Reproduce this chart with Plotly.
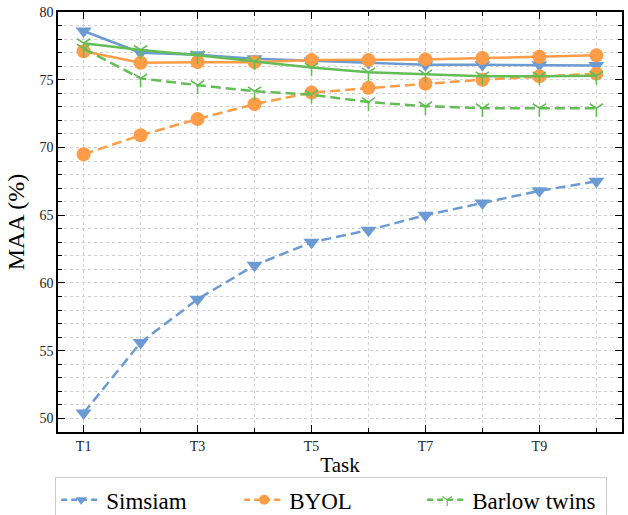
import plotly.graph_objects as go

tasks = [1, 2, 3, 4, 5, 6, 7, 8, 9, 10]
tick_vals = [1, 3, 5, 7, 9]
tick_text = ["T1", "T3", "T5", "T7", "T9"]

simsiam_dash = [50.4, 55.6, 58.8, 61.3, 63.0, 63.9, 65.0, 65.9, 66.8, 67.5]
simsiam_solid = [78.6, 77.0, 76.85, 76.55, 76.4, 76.25, 76.1, 76.1, 76.1, 76.05]
byol_dash = [69.5, 70.9, 72.1, 73.2, 74.05, 74.4, 74.7, 75.0, 75.25, 75.45]
byol_solid = [77.1, 76.25, 76.3, 76.3, 76.45, 76.45, 76.5, 76.6, 76.7, 76.8]
barlow_dash = [77.3, 75.1, 74.6, 74.15, 73.9, 73.35, 73.05, 72.9, 72.9, 72.9]
barlow_solid = [77.7, 77.2, 76.8, 76.35, 75.9, 75.55, 75.4, 75.25, 75.25, 75.3]

names = ["Simsiam", "BYOL", "Barlow twins"]
blue = "#6b9bd2"
orange = "#ff9c48"
green = "#63bd55"
colors = [blue, orange, green]
symbols = ["triangle-down", "circle", "y-down-open"]

SERIF = "Liberation Serif, Times New Roman, serif"

fig = go.Figure()

series = [
    (simsiam_dash, simsiam_solid),
    (byol_dash, byol_solid),
    (barlow_dash, barlow_solid),
]

dash_style = "10px,5px"
for i, (dvals, svals) in enumerate(series):
    c = colors[i]
    sym = symbols[i]
    is_open = sym.endswith("open")
    msize = 11 if is_open else 14
    mline = dict(color=c, width=1.6) if is_open else dict(width=0)
    fig.add_trace(go.Scatter(
        x=tasks, y=svals, mode="lines+markers", showlegend=False,
        line=dict(color=c, width=2.5),
        marker=dict(symbol=sym, size=msize, color=c, line=mline),
    ))
    fig.add_trace(go.Scatter(
        x=tasks, y=dvals, mode="lines+markers", showlegend=False,
        line=dict(color=c, width=2.5, dash=dash_style),
        marker=dict(symbol=sym, size=msize, color=c, line=mline),
    ))

# legend-only entries with small markers
for i, n in enumerate(names):
    c = colors[i]
    sym = symbols[i]
    is_open = sym.endswith("open")
    fig.add_trace(go.Scatter(
        x=[None], y=[None], mode="lines+markers", name=n,
        line=dict(color=c, width=2.5, dash="6px,4px"),
        marker=dict(symbol=sym, size=8 if is_open else 10, color=c,
                    line=dict(color=c, width=1.2) if is_open else dict(width=0)),
    ))

axis_common = dict(
    showline=True, linecolor="black", linewidth=1.5, mirror="ticks",
    ticks="inside", ticklen=7, tickwidth=1.2, tickcolor="black",
    showgrid=True, gridcolor="#d0d0d0", griddash="dot", gridwidth=1,
    zeroline=False, automargin=False,
    tickfont=dict(family=SERIF, size=14, color="#222"),
)

fig.update_xaxes(
    range=[0.55, 10.45], tickvals=tick_vals, ticktext=tick_text,
    minor=dict(dtick=1, tick0=0, ticks="inside", ticklen=4, tickcolor="black",
               showgrid=True, gridcolor="#d0d0d0", griddash="dot"),
    title=dict(text="Task", font=dict(family=SERIF, size=21, color="black"), standoff=10),
    **axis_common,
)
fig.update_yaxes(
    range=[49, 80], tickvals=[50, 55, 60, 65, 70, 75, 80],
    minor=dict(dtick=1, tick0=0, ticks="inside", ticklen=4, tickcolor="black",
               showgrid=True, gridcolor="#d0d0d0", griddash="dot"),
    title=dict(text="MAA (%)", font=dict(family=SERIF, size=24, color="black"), standoff=8),
    **axis_common,
)

fig.update_layout(
    width=628, height=515,
    margin=dict(l=58, r=6, t=12, b=83),
    paper_bgcolor="white", plot_bgcolor="white",
    font=dict(family=SERIF),
    legend=dict(
        orientation="h", x=55 / 628, y=(515 - 477) / 515, xref="container", yref="container",
        xanchor="left", yanchor="top",
        font=dict(family=SERIF, size=23, color="black"),
        bordercolor="#cccccc", borderwidth=1.2, bgcolor="white",
        itemwidth=40, entrywidth=128, entrywidthmode="pixels",
    ),
)

fig.write_html("out.html")
